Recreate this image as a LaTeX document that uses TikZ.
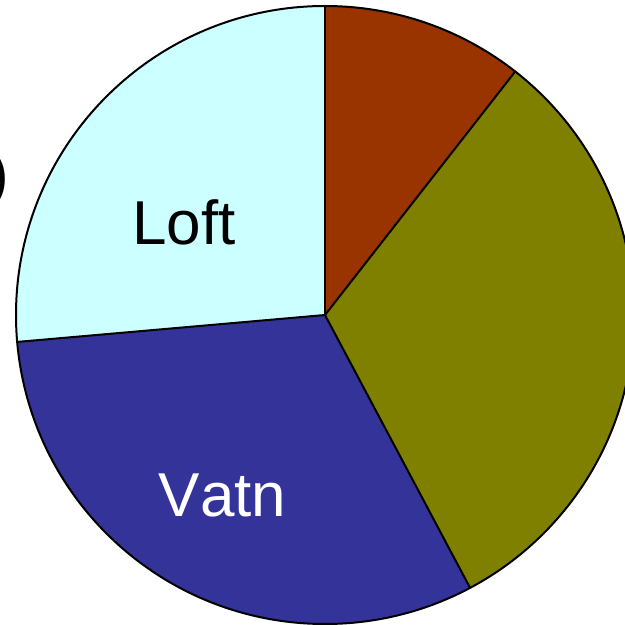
\documentclass[tikz,border=0pt]{standalone}
\usepackage{fontspec}
\setmainfont{Liberation Sans}
\definecolor{brownc}{HTML}{993300}
\definecolor{olivec}{HTML}{808000}
\definecolor{bluec}{HTML}{333399}
\definecolor{cyanc}{HTML}{CCFFFF}
\begin{document}
\begin{tikzpicture}[x=1pt,y=1pt,
  slice/.style={draw=black,line width=2pt,line join=round},
  lbl/.style={font=\fontsize{62}{72}\selectfont\addfontfeatures{Kerning=Off},inner sep=0pt,anchor=base}]
\useasboundingbox (0,0) rectangle (625,625);
\begin{scope}
\clip (0,0) rectangle (625,625);
\coordinate (c) at (325,310);
\def\R{309}
\fill[brownc] (c) -- ++(52:\R) arc[start angle=52,end angle=90,radius=\R] -- cycle;
\fill[olivec] (c) -- ++(-62:\R) arc[start angle=-62,end angle=52,radius=\R] -- cycle;
\fill[bluec] (c) -- ++(185:\R) arc[start angle=185,end angle=298,radius=\R] -- cycle;
\fill[cyanc] (c) -- ++(90:\R) arc[start angle=90,end angle=185,radius=\R] -- cycle;
\draw[slice] (c) circle[radius=\R];
\draw[slice] (c) -- ++(90:\R);
\draw[slice] (c) -- ++(52:\R);
\draw[slice] (c) -- ++(-62:\R);
\draw[slice] (c) -- ++(185:\R);
\node[lbl,anchor=base east] (paren) at (9,429.5) {)};
\end{scope}
\node[lbl] (loft) at (184,380) {Loft};
\node[lbl,text=white] (vatn) at (222.5,108) {Vatn};
\end{tikzpicture}
\end{document}
